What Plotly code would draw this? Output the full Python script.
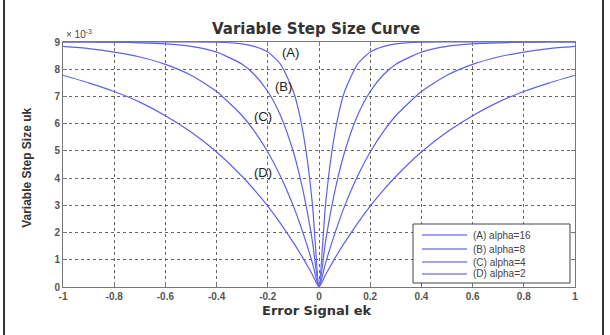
import plotly.graph_objects as go

# error signal magnitudes (positive half; mirrored for negative side)
e_pos = [0, 0.025, 0.05, 0.075, 0.1, 0.15, 0.2, 0.25, 0.3, 0.4, 0.5, 0.6, 0.7, 0.8, 0.9, 1.0]
# step size values (x 10^-3)
u_a = [0, 2.97, 4.96, 6.29, 7.18, 8.18, 8.63, 8.83, 8.93, 8.99, 9.0, 9.0, 9.0, 9.0, 9.0, 9.0]
u_b = [0, 1.63, 2.97, 4.06, 4.96, 6.29, 7.18, 7.78, 8.18, 8.63, 8.84, 8.93, 8.97, 8.99, 9.0, 9.0]
u_c = [0, 0.86, 1.63, 2.33, 2.97, 4.06, 4.96, 5.69, 6.29, 7.18, 7.78, 8.18, 8.45, 8.63, 8.76, 8.84]
u_d = [0, 0.44, 0.86, 1.26, 1.63, 2.33, 2.97, 3.54, 4.06, 4.96, 5.69, 6.29, 6.79, 7.18, 7.50, 7.78]
names = ["(A) alpha=16", "(B) alpha=8", "(C) alpha=4", "(D) alpha=2"]
series = [u_a, u_b, u_c, u_d]
labels = ["(A)", "(B)", "(C)", "(D)"]
label_x = [-0.11, -0.14, -0.22, -0.22]
label_y = [8.6, 7.35, 6.25, 4.2]
x_ticks = [-1, -0.8, -0.6, -0.4, -0.2, 0, 0.2, 0.4, 0.6, 0.8, 1]
y_ticks = [0, 1, 2, 3, 4, 5, 6, 7, 8, 9]

x_full = [-v for v in e_pos[::-1]] + e_pos[1:]
line_col = "rgb(95,95,240)"

fig = go.Figure()
for nm, u in zip(names, series):
    y_full = u[::-1] + u[1:]
    fig.add_trace(go.Scatter(x=x_full, y=y_full, mode="lines", name=nm, showlegend=False,
                             line=dict(color=line_col, width=1.2, shape="spline", smoothing=0.6)))

for lb, lx, ly in zip(labels, label_x, label_y):
    fig.add_annotation(x=lx, y=ly, text=lb, showarrow=False,
                       font=dict(size=13, color="#222", family="Liberation Sans"))

tickfont = dict(size=10, color="#555", family="Liberation Sans")
axis_common = dict(showgrid=True, gridcolor="#666", griddash="dot", gridwidth=1,
                   showline=True, linecolor="#777", linewidth=1, mirror="ticks",
                   ticks="inside", ticklen=4, tickcolor="#777", zeroline=False,
                   tickfont=tickfont)
fig.update_xaxes(range=[-1, 1], tickvals=x_ticks,
                 ticktext=[f"<b>{v:g}</b>" for v in x_ticks], **axis_common)
fig.update_yaxes(range=[0, 9], tickvals=y_ticks,
                 ticktext=[f"<b>{v}</b>" for v in y_ticks], **axis_common)

# titles
fig.add_annotation(xref="paper", yref="paper", x=0.494, y=1.053, text="<b>Variable Step Size Curve</b>",
                   showarrow=False, font=dict(size=15, color="#333", family="DejaVu Sans"),
                   xanchor="center", yanchor="middle")
fig.add_annotation(xref="paper", yref="paper", x=0.496, y=-0.096, text="<b>Error Signal ek</b>",
                   showarrow=False, font=dict(size=13, color="#333", family="DejaVu Sans"),
                   xanchor="center", yanchor="middle")
fig.add_annotation(xref="paper", yref="paper", x=-0.07, y=0.487, text="<b>Variable Step Size uk</b>",
                   showarrow=False, textangle=-90, font=dict(size=12, color="#333", family="Liberation Sans"),
                   xanchor="center", yanchor="middle")
fig.add_annotation(xref="paper", yref="paper", x=0.002, y=1.0, text="× 10<sup>-3</sup>",
                   showarrow=False, font=dict(size=10, color="#444", family="Liberation Sans"),
                   xanchor="left", yanchor="bottom")

# outer frame lines
for xp in [-0.1152, 1.0547]:
    fig.add_shape(type="line", xref="paper", yref="paper", x0=xp, x1=xp, y0=-0.2, y1=1.18,
                  line=dict(color="#333", width=2))

# legend box (drawn manually for compact MATLAB-like spacing)
fig.add_shape(type="rect", xref="paper", yref="paper", x0=0.6836, x1=0.9902, y0=0.0163, y1=0.2571,
              line=dict(color="#444", width=1), fillcolor="white", layer="above")
leg_y = [0.2122, 0.1551, 0.1020, 0.0531]
for nm, ly in zip(names, leg_y):
    fig.add_shape(type="line", xref="paper", yref="paper", x0=0.7012, x1=0.7891, y0=ly, y1=ly,
                  line=dict(color="rgb(130,130,245)", width=1.5), layer="above")
    fig.add_annotation(xref="paper", yref="paper", x=0.797, y=ly, text=nm, showarrow=False,
                       xanchor="left", yanchor="middle",
                       font=dict(size=10, color="#444", family="Liberation Sans"))

fig.update_layout(
    width=610, height=335,
    margin=dict(l=63, r=35, t=42, b=48),
    paper_bgcolor="white", plot_bgcolor="white",
    showlegend=False,
)

fig.write_html("out.html")
